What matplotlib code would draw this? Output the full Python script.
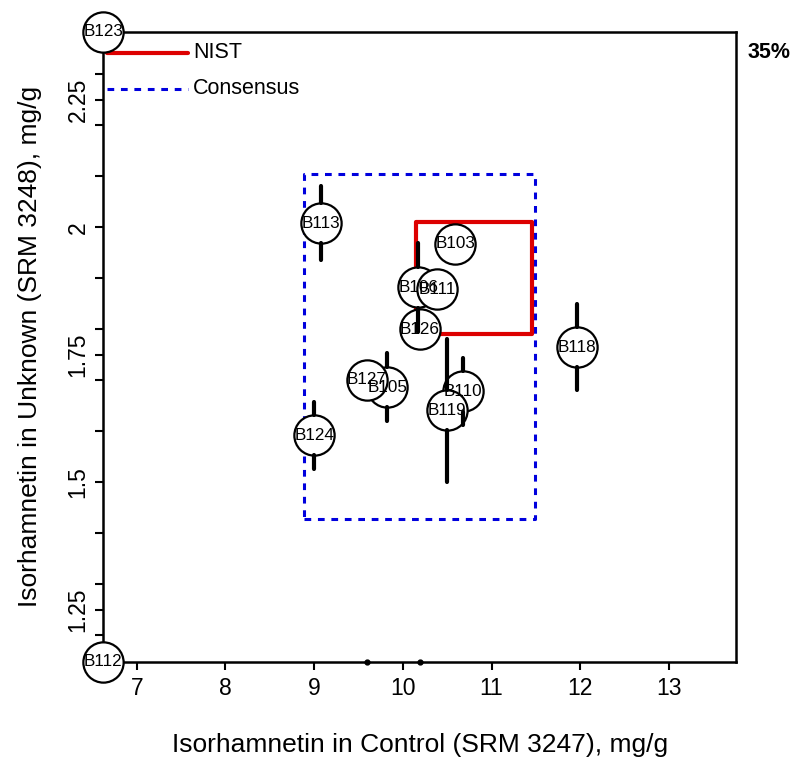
import numpy as np
import matplotlib.pyplot as plt

plt.rcParams['font.family'] = ['Liberation Sans', 'DejaVu Sans']

labs = ["B123", "B112", "B113", "B103", "B106", "B111", "B126",
        "B105", "B127", "B124", "B110", "B119", "B118"]
control = [6.623, 6.623, 9.074, 10.589, 10.175, 10.389, 10.194,
           9.825, 9.593, 9.002, 10.675, 10.495, 11.96]
unknown = [2.383, 1.148, 2.008, 1.968, 1.882, 1.878, 1.800,
           1.686, 1.701, 1.592, 1.678, 1.641, 1.765]
unknown_err = [0.0, 0.0, 0.072, 0.03, 0.087, 0.03, 0.03,
               0.067, 0.03, 0.066, 0.066, 0.14, 0.085]
dot_x = [9.593, 10.19]

nist_x = [10.149, 11.453]
nist_y = [1.790, 2.010]
cons_x = [8.889, 11.494]
cons_y = [1.427, 2.105]

xlim = (6.623, 13.757)
ylim = (1.148, 2.383)

fig = plt.figure(figsize=(7.95, 7.57), dpi=100)
ax = fig.add_axes([0.130, 0.1259, 0.796, 0.832])
ax.set_xlim(*xlim)
ax.set_ylim(*ylim)

# consensus and NIST boxes
ax.plot([cons_x[0], cons_x[1], cons_x[1], cons_x[0], cons_x[0]],
        [cons_y[0], cons_y[0], cons_y[1], cons_y[1], cons_y[0]],
        color="#0000dd", lw=2.2, ls=(0, (2.2, 2.2)), zorder=1)
ax.plot([nist_x[0], nist_x[1], nist_x[1], nist_x[0], nist_x[0]],
        [nist_y[0], nist_y[0], nist_y[1], nist_y[1], nist_y[0]],
        color="#dd0000", lw=3.0, solid_joinstyle="round", zorder=1)

ms = 29
ax.plot(control, unknown, "o", ms=ms, mfc="white", mec="black", mew=1.6,
        zorder=3, clip_on=False, ls="none")

# error bars drawn outside the circles
fig.canvas.draw()
r_px = ms / 2 * fig.dpi / 72
ax_h = ax.get_window_extent().height
r_data = r_px * (ylim[1] - ylim[0]) / ax_h
for x, y, e in zip(control, unknown, unknown_err):
    if e > r_data:
        ax.plot([x, x], [y + r_data, y + e], color="black", lw=3,
                solid_capstyle="round", zorder=4)
        ax.plot([x, x], [y - r_data, y - e], color="black", lw=3,
                solid_capstyle="round", zorder=4)

for x, y, lab in zip(control, unknown, labs):
    ax.text(x, y, lab, ha="center", va="center", fontsize=12.3, zorder=5,
            clip_on=False)

ax.plot(dot_x, [ylim[0]] * len(dot_x), "o", color="black", ms=3.5,
        clip_on=False, zorder=4)

# legend drawn by hand
ax.plot([0.005, 0.134], [0.967, 0.967], transform=ax.transAxes,
        color="#dd0000", lw=3.0, solid_capstyle="round")
ax.plot([0.005, 0.134], [0.910, 0.910], transform=ax.transAxes,
        color="#0000dd", lw=2.2, ls=(0, (2.2, 2.2)))
ax.text(0.142, 0.967, "NIST", transform=ax.transAxes, va="center",
        fontsize=15.5)
ax.text(0.142, 0.910, "Consensus", transform=ax.transAxes, va="center",
        fontsize=15.5)

ax.text(1.018, 0.967, "35%", transform=ax.transAxes, va="center",
        fontsize=15.5, fontweight="bold")

ax.set_xticks([7, 8, 9, 10, 11, 12, 13])
ax.set_yticks([1.25, 1.5, 1.75, 2, 2.25])
ax.set_yticklabels(["1.25", "1.5", "1.75", "2", "2.25"], rotation=90,
                   va="center")
ax.set_yticks(np.arange(1.2, 2.35, 0.1), minor=True)
ax.tick_params(which="both", direction="out", length=6, width=1.5,
               labelsize=16.5)
ax.tick_params(axis="x", pad=5)
ax.tick_params(axis="y", pad=4)
for s in ax.spines.values():
    s.set_linewidth(1.8)

ax.text(0.5, -0.132, "Isorhamnetin in Control (SRM 3247), mg/g",
        transform=ax.transAxes, ha="center", va="center", fontsize=19)
ax.text(-0.116, 0.5, "Isorhamnetin in Unknown (SRM 3248), mg/g",
        transform=ax.transAxes, ha="center", va="center", rotation=90,
        fontsize=19)

fig.savefig("out.png", dpi=100)
